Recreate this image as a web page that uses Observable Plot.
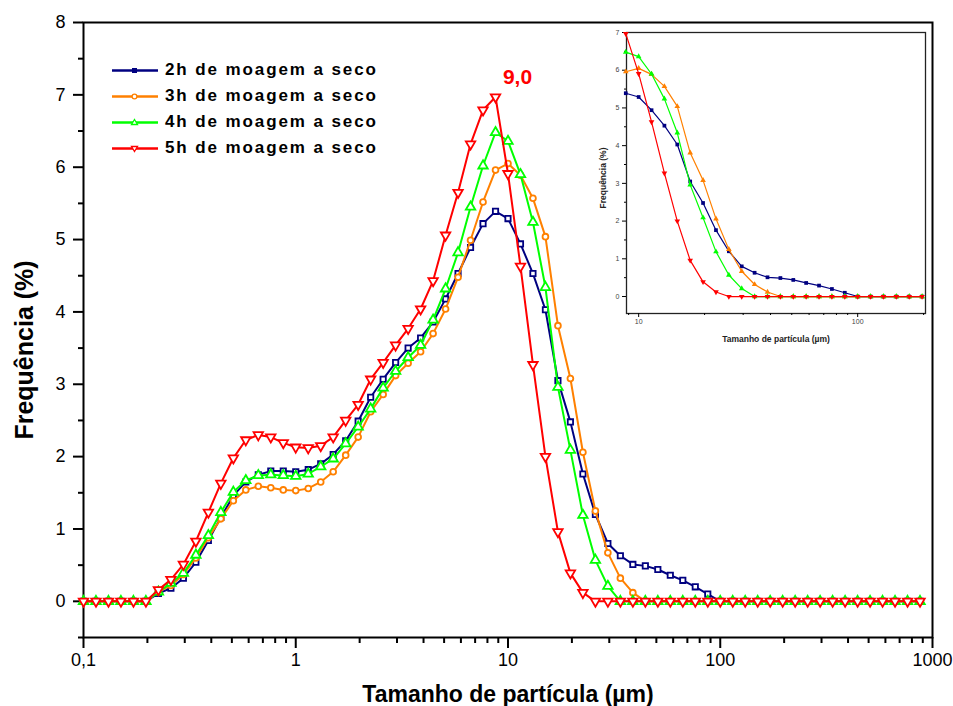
<!DOCTYPE html>
<html>
<head>
<meta charset="utf-8">
<script src="https://cdn.jsdelivr.net/npm/d3@7"></script>
<script src="https://cdn.jsdelivr.net/npm/@observablehq/plot@0.6"></script>
<style>
  html, body { margin: 0; padding: 0; background: #fff; }
  #wrap { position: relative; width: 953px; height: 706px; overflow: hidden; font-family: "Liberation Sans", Arial, sans-serif; }
  #wrap svg { display: block; }
  #main { position: absolute; left: 0; top: 0; }
  #inset { position: absolute; left: 590px; top: 20px; }
  .leg { position: absolute; left: 110px; height: 20px; display: flex; align-items: center; }
  .leg span { font-weight: bold; font-size: 17px; letter-spacing: 1.9px; margin-left: 6px; color: #000; }
</style>
</head>
<body>
<div id="wrap">
  <div id="main"></div>
  <div id="inset"></div>
  <div id="legend"></div>
</div>
<script>
// Particle size classes (µm), log-spaced as in the reference
const sizes = [0.1, 0.1145, 0.1311, 0.1501, 0.1719, 0.1968, 0.2254, 0.2581, 0.2955, 0.3384, 0.3875, 0.4437, 0.5081, 0.5817, 0.6661, 0.7627, 0.8734,
  1, 1.145, 1.311, 1.501, 1.719, 1.968, 2.254, 2.581, 2.955, 3.384, 3.875, 4.437, 5.081, 5.817, 6.661, 7.627, 8.734,
  10, 11.45, 13.11, 15.01, 17.19, 19.68, 22.54, 25.81, 29.55, 33.84, 38.75, 44.37, 50.81, 58.17, 66.61, 76.27, 87.34,
  100, 114.5, 131.1, 150.1, 171.9, 196.8, 225.4, 258.1, 295.5, 338.4, 387.5, 443.7, 508.1, 581.7, 666.1, 762.7, 873.4];

const seriesNames = ["2h de moagem a seco", "3h de moagem a seco", "4h de moagem a seco", "5h de moagem a seco"];
const seriesColors = ["#000080", "#FF8000", "#00FF00", "#FF0000"];

const freq2h = [0, 0, 0, 0, 0, 0, 0.11, 0.18, 0.32, 0.54, 0.84, 1.16, 1.46, 1.65, 1.75, 1.80, 1.80,
  1.79, 1.82, 1.90, 2.03, 2.22, 2.49, 2.82, 3.07, 3.30, 3.50, 3.64, 3.86, 4.18, 4.53, 4.89, 5.22,
  5.39, 5.29, 4.94, 4.53, 4.03, 3.05, 2.48, 1.76, 1.20, 0.80, 0.63, 0.51, 0.49, 0.44, 0.36, 0.29, 0.20, 0.10,
  0, 0, 0, 0, 0, 0, 0, 0, 0, 0, 0, 0, 0, 0, 0, 0, 0];
const freq3h = [0, 0, 0, 0, 0, 0, 0.13, 0.22, 0.37, 0.60, 0.88, 1.14, 1.39, 1.54, 1.59, 1.57, 1.54,
  1.53, 1.56, 1.65, 1.79, 2.02, 2.27, 2.62, 2.86, 3.12, 3.29, 3.45, 3.70, 4.04, 4.48, 4.99, 5.52,
  5.96, 6.05, 5.89, 5.57, 5.04, 3.81, 3.08, 2.06, 1.25, 0.67, 0.32, 0.12,
  0, 0, 0, 0, 0, 0, 0, 0, 0, 0, 0, 0, 0, 0, 0, 0, 0, 0, 0, 0, 0, 0, 0];
const freq4h = [0, 0, 0, 0, 0, 0, 0.13, 0.25, 0.39, 0.64, 0.91, 1.23, 1.51, 1.67, 1.74, 1.75, 1.74,
  1.73, 1.76, 1.86, 1.97, 2.18, 2.41, 2.66, 2.95, 3.18, 3.37, 3.54, 3.89, 4.32, 4.82, 5.45, 6.02,
  6.48, 6.36, 5.90, 5.24, 4.34, 2.96, 2.09, 1.19, 0.57, 0.21,
  0, 0, 0, 0, 0, 0, 0, 0, 0, 0, 0, 0, 0, 0, 0, 0, 0, 0, 0, 0, 0, 0, 0, 0, 0];
const freq5h = [0, 0, 0, 0, 0, 0, 0.16, 0.30, 0.51, 0.83, 1.23, 1.63, 1.98, 2.23, 2.30, 2.27, 2.19,
  2.13, 2.12, 2.15, 2.27, 2.50, 2.72, 3.07, 3.30, 3.54, 3.77, 4.04, 4.43, 5.06, 5.65, 6.32, 6.79,
  6.97, 5.91, 4.63, 3.27, 2.00, 0.96, 0.39, 0.12,
  0, 0, 0, 0, 0, 0, 0, 0, 0, 0, 0, 0, 0, 0, 0, 0, 0, 0, 0, 0, 0, 0, 0, 0, 0, 0, 0];

const xMajor = [0.1, 1, 10, 100, 1000];
const xMajorLabels = ["0,1", "1", "10", "100", "1000"];
const xMinor = [0.2, 0.3, 0.4, 0.5, 0.6, 0.7, 0.8, 0.9, 2, 3, 4, 5, 6, 7, 8, 9, 20, 30, 40, 50, 60, 70, 80, 90, 200, 300, 400, 500, 600, 700, 800, 900];
const yMajor = [0, 1, 2, 3, 4, 5, 6, 7, 8];
const yMinor = [-0.5, 0.5, 1.5, 2.5, 3.5, 4.5, 5.5, 6.5, 7.5];

const peakLabel = {x: 8.734, y: 6.97, text: "9,0"};

const insetXMajor = [10, 100];
const insetXMinor = [9, 20, 30, 40, 50, 60, 70, 80, 90, 200];
const insetYMajor = [0, 1, 2, 3, 4, 5, 6, 7];
const insetYMinor = [0.5, 1.5, 2.5, 3.5, 4.5, 5.5, 6.5];

const xTitle = "Tamanho de partícula (µm)";
const yTitle = "Frequência (%)";

// custom downward triangle symbol
const triangleDown = {
  draw(context, size) {
    const y = -Math.sqrt(size / (Math.sqrt(3) * 3));
    context.moveTo(0, -y * 2);
    context.lineTo(-Math.sqrt(3) * y, y);
    context.lineTo(Math.sqrt(3) * y, y);
    context.closePath();
  }
};
const seriesSymbols = ["square", "circle", "triangle", triangleDown];
const seriesR = [3.0, 2.9, 3.5, 3.5];
const freqs = [freq2h, freq3h, freq4h, freq5h];

const seriesData = freqs.map((arr, s) => arr.map((v, i) => ({x: sizes[i], y: v, s})));

const mainMarks = [
  Plot.frame({stroke: "black", strokeWidth: 2}),
  Plot.axisY({ticks: yMajor, tickSize: 10, tickPadding: 8, strokeWidth: 2, fontSize: 18, fill: "black", tickFormat: d => String(d), label: null}),
  Plot.axisY({ticks: yMinor, tickSize: 5, strokeWidth: 2, tickFormat: () => "", label: null}),
  Plot.axisX({ticks: xMajor, tickSize: 11, tickPadding: 5, strokeWidth: 2, fontSize: 18, fill: "black", tickFormat: d => xMajorLabels[xMajor.indexOf(d)], label: null}),
  Plot.axisX({ticks: xMinor, tickSize: 6, strokeWidth: 2, tickFormat: () => "", label: null}),
];
seriesData.forEach((data, s) => {
  mainMarks.push(Plot.line(data, {x: "x", y: "y", stroke: seriesColors[s], strokeWidth: 2}));
  mainMarks.push(Plot.dot(data, {x: "x", y: "y", symbol: seriesSymbols[s], r: seriesR[s], stroke: seriesColors[s], strokeWidth: 1.8, fill: "white"}));
});
mainMarks.push(Plot.text([peakLabel], {x: "x", y: "y", text: "text", dx: 22, dy: -20, fill: "#FF0000", fontSize: 21, fontWeight: "bold"}));
mainMarks.push(Plot.text([xTitle], {frameAnchor: "bottom", text: d => d, dy: 57, fontSize: 23, fontWeight: "bold", fill: "black", lineAnchor: "middle", textAnchor: "middle", style: "letter-spacing:1.2px"}));
mainMarks.push(Plot.text([yTitle], {frameAnchor: "left", text: d => d, dx: -59, dy: 20, rotate: -90, fontSize: 25, fontWeight: "bold", fill: "black", lineAnchor: "middle", textAnchor: "middle"}));

const mainPlot = Plot.plot({
  width: 953, height: 706,
  marginLeft: 83, marginRight: 21, marginTop: 22, marginBottom: 69,
  x: {type: "log", domain: [0.1, 1000], axis: null},
  y: {domain: [-0.5, 8], axis: null},
  style: {fontFamily: "'Liberation Sans', Arial, sans-serif", background: "white", color: "black", overflow: "visible"},
  marks: mainMarks
});
document.getElementById("main").appendChild(mainPlot);

// Inset: zoom on 8.8–200 µm
const insetMarks = [
  Plot.frame({stroke: "#222", strokeWidth: 1.3}),
  Plot.axisY({ticks: insetYMajor, tickSize: 4, tickPadding: 3, strokeWidth: 1, fontSize: 7, fill: "#444", tickFormat: d => String(d), label: null}),
  Plot.axisY({ticks: insetYMinor, tickSize: 2, strokeWidth: 1, tickFormat: () => "", label: null}),
  Plot.axisX({ticks: insetXMajor, tickSize: 4, tickPadding: 2, strokeWidth: 1, fontSize: 7, fill: "#444", tickFormat: d => String(d), label: null}),
  Plot.axisX({ticks: insetXMinor, tickSize: 2, strokeWidth: 1, tickFormat: () => "", label: null}),
];
const insetSymbols = ["square", "triangle", "triangle", triangleDown];
seriesData.forEach((data, s) => {
  const d = data.filter(p => p.x >= 8 && p.x <= 205);
  insetMarks.push(Plot.line(d, {x: "x", y: "y", stroke: seriesColors[s], strokeWidth: 1.2}));
  insetMarks.push(Plot.dot(d, {x: "x", y: "y", symbol: insetSymbols[s], r: 2.1, fill: seriesColors[s], stroke: "none"}));
});
insetMarks.push(Plot.text([xTitle], {frameAnchor: "bottom", text: d => d, dy: 26, fontSize: 8.5, fontWeight: "bold", fill: "#222", lineAnchor: "middle", textAnchor: "middle", style: "letter-spacing:0.5px"}));
insetMarks.push(Plot.text([yTitle], {frameAnchor: "left", text: d => d, dx: -23, dy: 5, rotate: -90, fontSize: 8.5, fontWeight: "bold", fill: "#222", lineAnchor: "middle", textAnchor: "middle"}));

const insetPlot = Plot.plot({
  width: 345, height: 330,
  marginLeft: 36, marginRight: 10, marginTop: 12, marginBottom: 37,
  x: {type: "log", domain: [8.8, 204], axis: null},
  y: {domain: [-0.45, 7], axis: null},
  style: {fontFamily: "'Liberation Sans', Arial, sans-serif", background: "transparent", overflow: "visible"},
  marks: insetMarks
});
document.getElementById("inset").appendChild(insetPlot);

// Legend
const legend = document.getElementById("legend");
const legendSym = [
  '<rect x="22" y="5" width="5" height="5" fill="COL"/>',
  '<circle cx="24.5" cy="7.5" r="2.4" fill="white" stroke="COL" stroke-width="1.3"/>',
  '<path d="M24.5 4.5 L27.5 9.5 L21.5 9.5 Z" fill="white" stroke="COL" stroke-width="1.3"/>',
  '<path d="M21.5 5.5 L27.5 5.5 L24.5 10.5 Z" fill="white" stroke="COL" stroke-width="1.3"/>'
];
seriesNames.forEach((name, i) => {
  const row = document.createElement("div");
  row.className = "leg";
  row.style.top = (60 + i * 26) + "px";
  row.innerHTML = '<svg width="49" height="15"><line x1="2" y1="7.5" x2="48" y2="7.5" stroke="' + seriesColors[i] + '" stroke-width="2.5"/>' +
    legendSym[i].replace(/COL/g, seriesColors[i]) + '</svg><span>' + name + '</span>';
  legend.appendChild(row);
});
</script>
</body>
</html>
